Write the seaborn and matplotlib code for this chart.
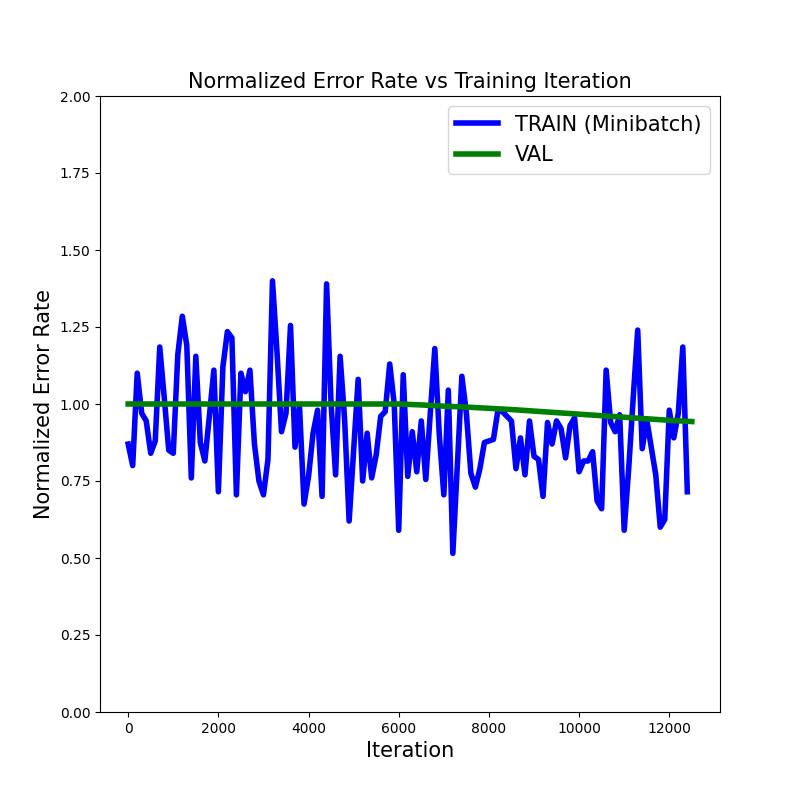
import numpy as np
import pandas as pd
import matplotlib
matplotlib.use("Agg")
import matplotlib.pyplot as plt
import seaborn as sns

train_iter = list(range(0, 12500, 100))
train_err = [
    0.87, 0.80, 1.10, 0.97, 0.945, 0.84, 0.88, 1.185, 1.02, 0.85,
    0.84, 1.16, 1.285, 1.19, 0.76, 1.155, 0.875, 0.815, 0.96, 1.11,
    0.715, 1.12, 1.235, 1.215, 0.705, 1.10, 1.04, 1.11, 0.87, 0.75,
    0.705, 0.82, 1.40, 1.17, 0.91, 0.97, 1.255, 0.86, 0.99, 0.675,
    0.765, 0.905, 0.98, 0.70, 1.39, 1.00, 0.77, 1.155, 0.95, 0.62,
    0.85, 1.08, 0.75, 0.905, 0.76, 0.835, 0.96, 0.975, 1.13, 1.00,
    0.59, 1.095, 0.765, 0.91, 0.78, 0.945, 0.755, 0.97, 1.18, 0.90,
    0.705, 1.045, 0.515, 0.80, 1.09, 0.97, 0.775, 0.73, 0.79, 0.875,
    0.88, 0.885, 0.98, 0.975, 0.96, 0.945, 0.79, 0.89, 0.77, 0.945,
    0.83, 0.82, 0.70, 0.94, 0.87, 0.945, 0.92, 0.825, 0.93, 0.955,
    0.78, 0.815, 0.815, 0.845, 0.685, 0.66, 1.11, 0.94, 0.91, 0.965,
    0.59, 0.79, 1.02, 1.24, 0.855, 0.95, 0.86, 0.77, 0.60, 0.625,
    0.98, 0.89, 0.97, 1.185, 0.715,
]

val_iter = [0, 500, 1000, 1500, 2000, 2500, 3000, 3500, 4000, 4500, 5000,
            5500, 6000, 6500, 7000, 7500, 8000, 8500, 9000, 9500, 10000,
            10500, 11000, 11500, 12000, 12500]
val_err = [1.0, 1.0, 1.0, 1.0, 1.0, 1.0, 1.0, 1.0, 1.0, 1.0, 1.0,
           1.0, 1.0, 0.997, 0.993, 0.99, 0.986, 0.982, 0.977, 0.972, 0.967,
           0.962, 0.957, 0.952, 0.947, 0.943]

y_ticks = [0.0, 0.25, 0.5, 0.75, 1.0, 1.25, 1.5, 1.75, 2.0]
x_ticks = [0, 2000, 4000, 6000, 8000, 10000, 12000]

fig, ax = plt.subplots(figsize=(8, 8), dpi=100)
fig.subplots_adjust(left=0.125, right=0.9, bottom=0.11, top=0.88)

sns.lineplot(x=train_iter, y=train_err, ax=ax, color="blue", linewidth=4,
             label="TRAIN (Minibatch)")
sns.lineplot(x=val_iter, y=val_err, ax=ax, color="green", linewidth=4,
             label="VAL")

ax.set_ylim(0, 2)
ax.set_yticks(y_ticks)
ax.set_yticklabels([f"{v:.2f}" for v in y_ticks])
ax.set_xticks(x_ticks)
ax.set_title("Normalized Error Rate vs Training Iteration", fontsize=15)
ax.set_xlabel("Iteration", fontsize=15)
ax.set_ylabel("Normalized Error Rate", fontsize=15)
ax.legend(loc="upper right", fontsize=15)

fig.savefig("out.png", dpi=100)
